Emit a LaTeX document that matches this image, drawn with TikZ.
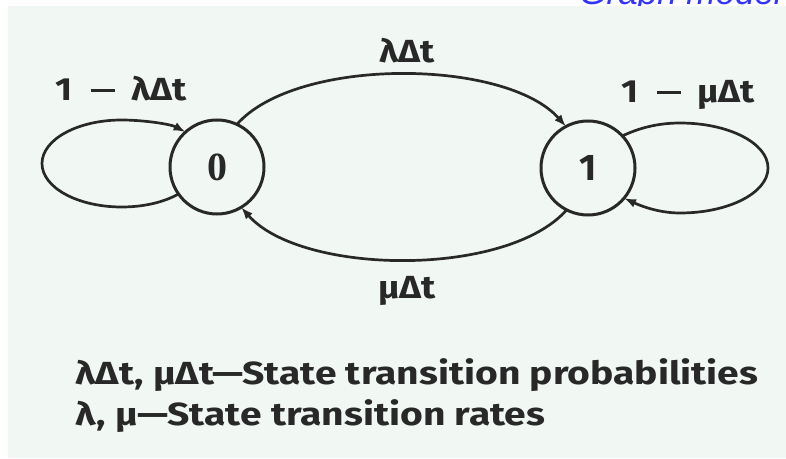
\documentclass[tikz,border=0pt]{standalone}
\usepackage{fontspec}
\setmainfont{Fira Sans}
\newfontfamily\serifnum{Liberation Serif}
\newfontfamily\bluefont{Liberation Sans}
\usetikzlibrary{arrows.meta}
\definecolor{bg}{RGB}{241,248,244}
\definecolor{ink}{RGB}{40,40,40}
\definecolor{blueTxt}{RGB}{51,51,255}
\newcommand{\wide}[2]{\scalebox{#1}[1]{#2}}
\newcommand{\mdash}{\hspace{0.5em}\rule[8.5pt]{21pt}{3.2pt}\hspace{0.45em}}
\begin{document}
\begin{tikzpicture}[x=1pt,y=1pt,
  state/.style={circle, draw=ink, line width=3pt, minimum size=94pt, inner sep=0pt, outer sep=0pt, text=ink},
  conn/.style={draw=ink, line width=2.7pt, -{Latex[length=12pt,width=9pt]}},
  lbl/.style={text=ink, font=\fontsize{32}{36}\selectfont\bfseries, inner sep=0pt},
  legend/.style={text=ink, font=\fontsize{32}{36}\selectfont\bfseries, inner sep=0pt, anchor=base west}]
\useasboundingbox (0,0) rectangle (786,458);
\node[anchor=base east, text=blueTxt, font=\bluefont\itshape\fontsize{35}{40}\selectfont, inner sep=0pt] (title) at (782,453) {Graph model};
\fill[bg] (8,0) rectangle (786,452);
% states
\node[state, font=\serifnum\bfseries\fontsize{40}{44}\selectfont] (n0) at (217,291) {0};
\node[state, font=\bfseries\fontsize{37}{42}\selectfont] (n1) at (588,290) {1};
% transitions between states
\draw[conn] (n0.65) .. controls +(60,68) and +(-60,68) .. (n1.118);
\draw[conn] (n1.243) .. controls +(-60,-68) and +(60,-68) .. (n0.301);
% self loops
\draw[conn] (n0.215) .. controls +(-15,-8.5) and (143.2,251) .. (121.6,251)
  .. controls (77.6,251) and (42,270.5) .. (42,294.5)
  .. controls (42,318.5) and (77.6,338) .. (121.6,338)
  .. controls (143.2,338) and +(-15,8) .. (n0.132);
\draw[conn] (n1.43) .. controls +(16.3,7.8) and (657.7,335) .. (680,335)
  .. controls (728.6,335) and (768,314.9) .. (768,290)
  .. controls (768,265.1) and (728.6,245) .. (680,245)
  .. controls (658.3,245) and +(16.2,-7.4) .. (n1.320);
% labels
\node[lbl, anchor=base] (lup) at (407,395) {\wide{1.15}{λΔt}};
\node[lbl, anchor=base] (ldn) at (407,160) {\wide{1.15}{μΔt}};
\node[lbl, anchor=base west] (l0) at (55,357) {\wide{1.15}{1\mdash λΔt}};
\node[lbl, anchor=base west] (l1) at (621,355) {\wide{1.15}{1\mdash μΔt}};
% legend
\node[legend] (leg1) at (75,74) {\wide{1.22}{λΔt, μΔt—State transition probabilities}};
\node[legend] (leg2) at (75,33) {\wide{1.22}{λ, μ—State transition rates}};
\end{tikzpicture}
\end{document}
